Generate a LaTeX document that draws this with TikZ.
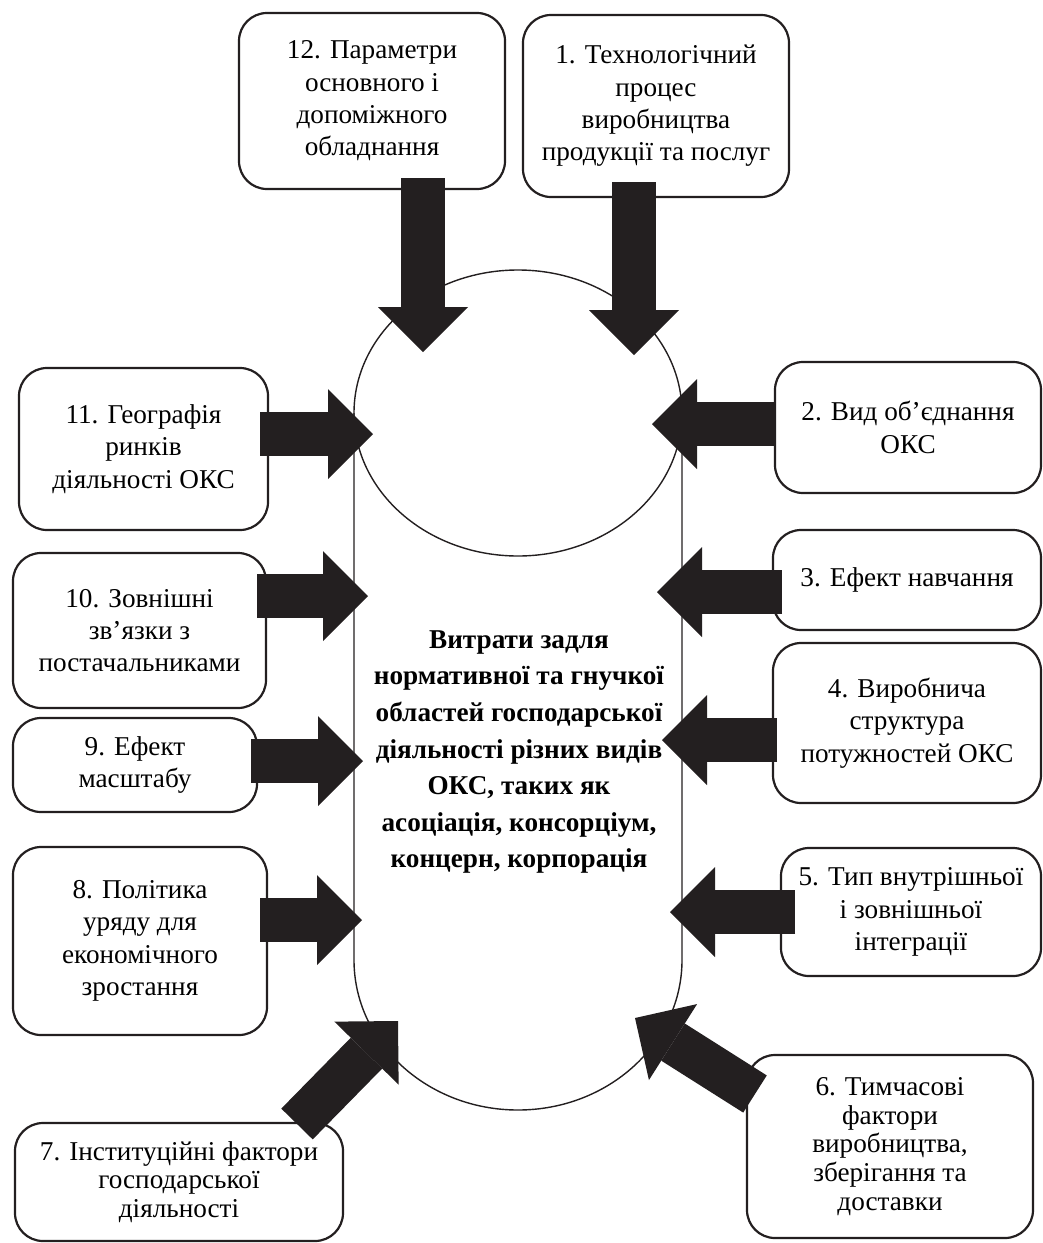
\documentclass[tikz,border=0pt]{standalone}
\usepackage{fontspec}
\setmainfont{Liberation Serif}
\usetikzlibrary{arrows.meta}
\definecolor{ink}{HTML}{231F20}

\begin{document}
\begin{tikzpicture}[x=0.5pt,y=-0.5pt]\tikzstyle{every node}+=[inner sep=0pt]
	\tikzstyle{factor}=[draw=ink, line width=1.1pt, rounded corners=14pt, align=center, font=\fontsize{13.6}{16.2}\selectfont]
	\tikzstyle{tight}=[font=\fontsize{13.6}{14.3}\selectfont]
	\tikzstyle{fat}=[ink, line width=22pt, -{Triangle[length=22.5pt, width=45pt, line width=0pt]}]
	\useasboundingbox (0,0) rectangle (1043,1243);
	\draw [ink, line width=0.7pt] (518,413) ellipse [x radius=164, y radius=143];
	\draw [ink, line width=0.7pt] (354,413) -- (354,960) arc (180:0:164 and 150) -- (682,413);
	\node (core) [align=center, font=\bfseries\fontsize{13.6}{18.3}\selectfont] at (519,752) {Витрати задля\\нормативної та гнучкої\\областей господарської\\діяльності різних видів\\ОКС, таких як\\асоціація, консорціум,\\концерн, корпорація};
	\node (b12) [factor, minimum width=133pt, minimum height=88pt] at (372,101) {12. Параметри\\основного і\\допоміжного\\обладнання};
	\node (b1) [factor, minimum width=133pt, minimum height=91pt] at (656,106) {1. Технологічний\\процес\\виробництва\\продукції та послуг};
	\node (b11) [factor, minimum width=124.5pt, minimum height=81pt] at (143.5,449) {11. Географія\\ринків\\діяльності ОКС};
	\node (b2) [factor, minimum width=133pt, minimum height=65.5pt] at (908,427.5) {2. Вид об’єднання\\ОКС};
	\node (b10) [factor, minimum width=126.5pt, minimum height=77.5pt] at (139.5,630.5) {10. Зовнішні\\зв’язки з\\постачальниками};
	\node (b3) [factor, minimum width=134pt, minimum height=50pt] at (907,580) {3. Ефект навчання};
	\node (b9) [factor, minimum width=122pt, minimum height=47pt] at (135,765) {9. Ефект\\масштабу};
	\node (b4) [factor, minimum width=134pt, minimum height=80pt] at (907,723) {4. Виробнича\\структура\\потужностей ОКС};
	\node (b8) [factor, minimum width=127pt, minimum height=94pt] at (140,941) {8. Політика\\уряду для\\економічного\\зростання};
	\node (b5) [factor, minimum width=130pt, minimum height=64pt] at (911,912) {5. Тип внутрішньої\\і зовнішньої\\інтеграції};
	\node (b6) [factor, tight, minimum width=143pt, minimum height=91.5pt] at (890,1146.5) {6. Тимчасові\\фактори\\виробництва,\\зберігання та\\доставки};
	\node (b7) [factor, tight, minimum width=164pt, minimum height=59pt] at (179,1182) {7. Інституційні фактори\\господарської\\діяльності};
	\coordinate (t12) at (423,178); \coordinate (h12) at (423,352);
	\coordinate (t1) at (634,182); \coordinate (h1) at (634,355);
	\coordinate (t11) at (260,434); \coordinate (h11) at (373,434);
	\coordinate (t2) at (775,424); \coordinate (h2) at (652,424);
	\coordinate (t10) at (257,596); \coordinate (h10) at (368,596);
	\coordinate (t3) at (782,592); \coordinate (h3) at (657,592);
	\coordinate (t9) at (251,761); \coordinate (h9) at (363,761);
	\coordinate (t4) at (777,740); \coordinate (h4) at (662,740);
	\coordinate (t8) at (260,920); \coordinate (h8) at (362,920);
	\coordinate (t5) at (795,912); \coordinate (h5) at (670,912);
	\coordinate (t7) at (297,1124); \coordinate (h7) at (398,1021);
	\coordinate (t6) at (755,1094); \coordinate (h6) at (635,1018);
	\draw [fat] (t12) -- (h12);
	\draw [fat] (t1) -- (h1);
	\draw [fat] (t11) -- (h11);
	\draw [fat] (t2) -- (h2);
	\draw [fat] (t10) -- (h10);
	\draw [fat] (t3) -- (h3);
	\draw [fat] (t9) -- (h9);
	\draw [fat] (t4) -- (h4);
	\draw [fat] (t8) -- (h8);
	\draw [fat] (t5) -- (h5);
	\draw [fat] (t7) -- (h7);
	\draw [fat] (t6) -- (h6);
\end{tikzpicture}
\end{document}
